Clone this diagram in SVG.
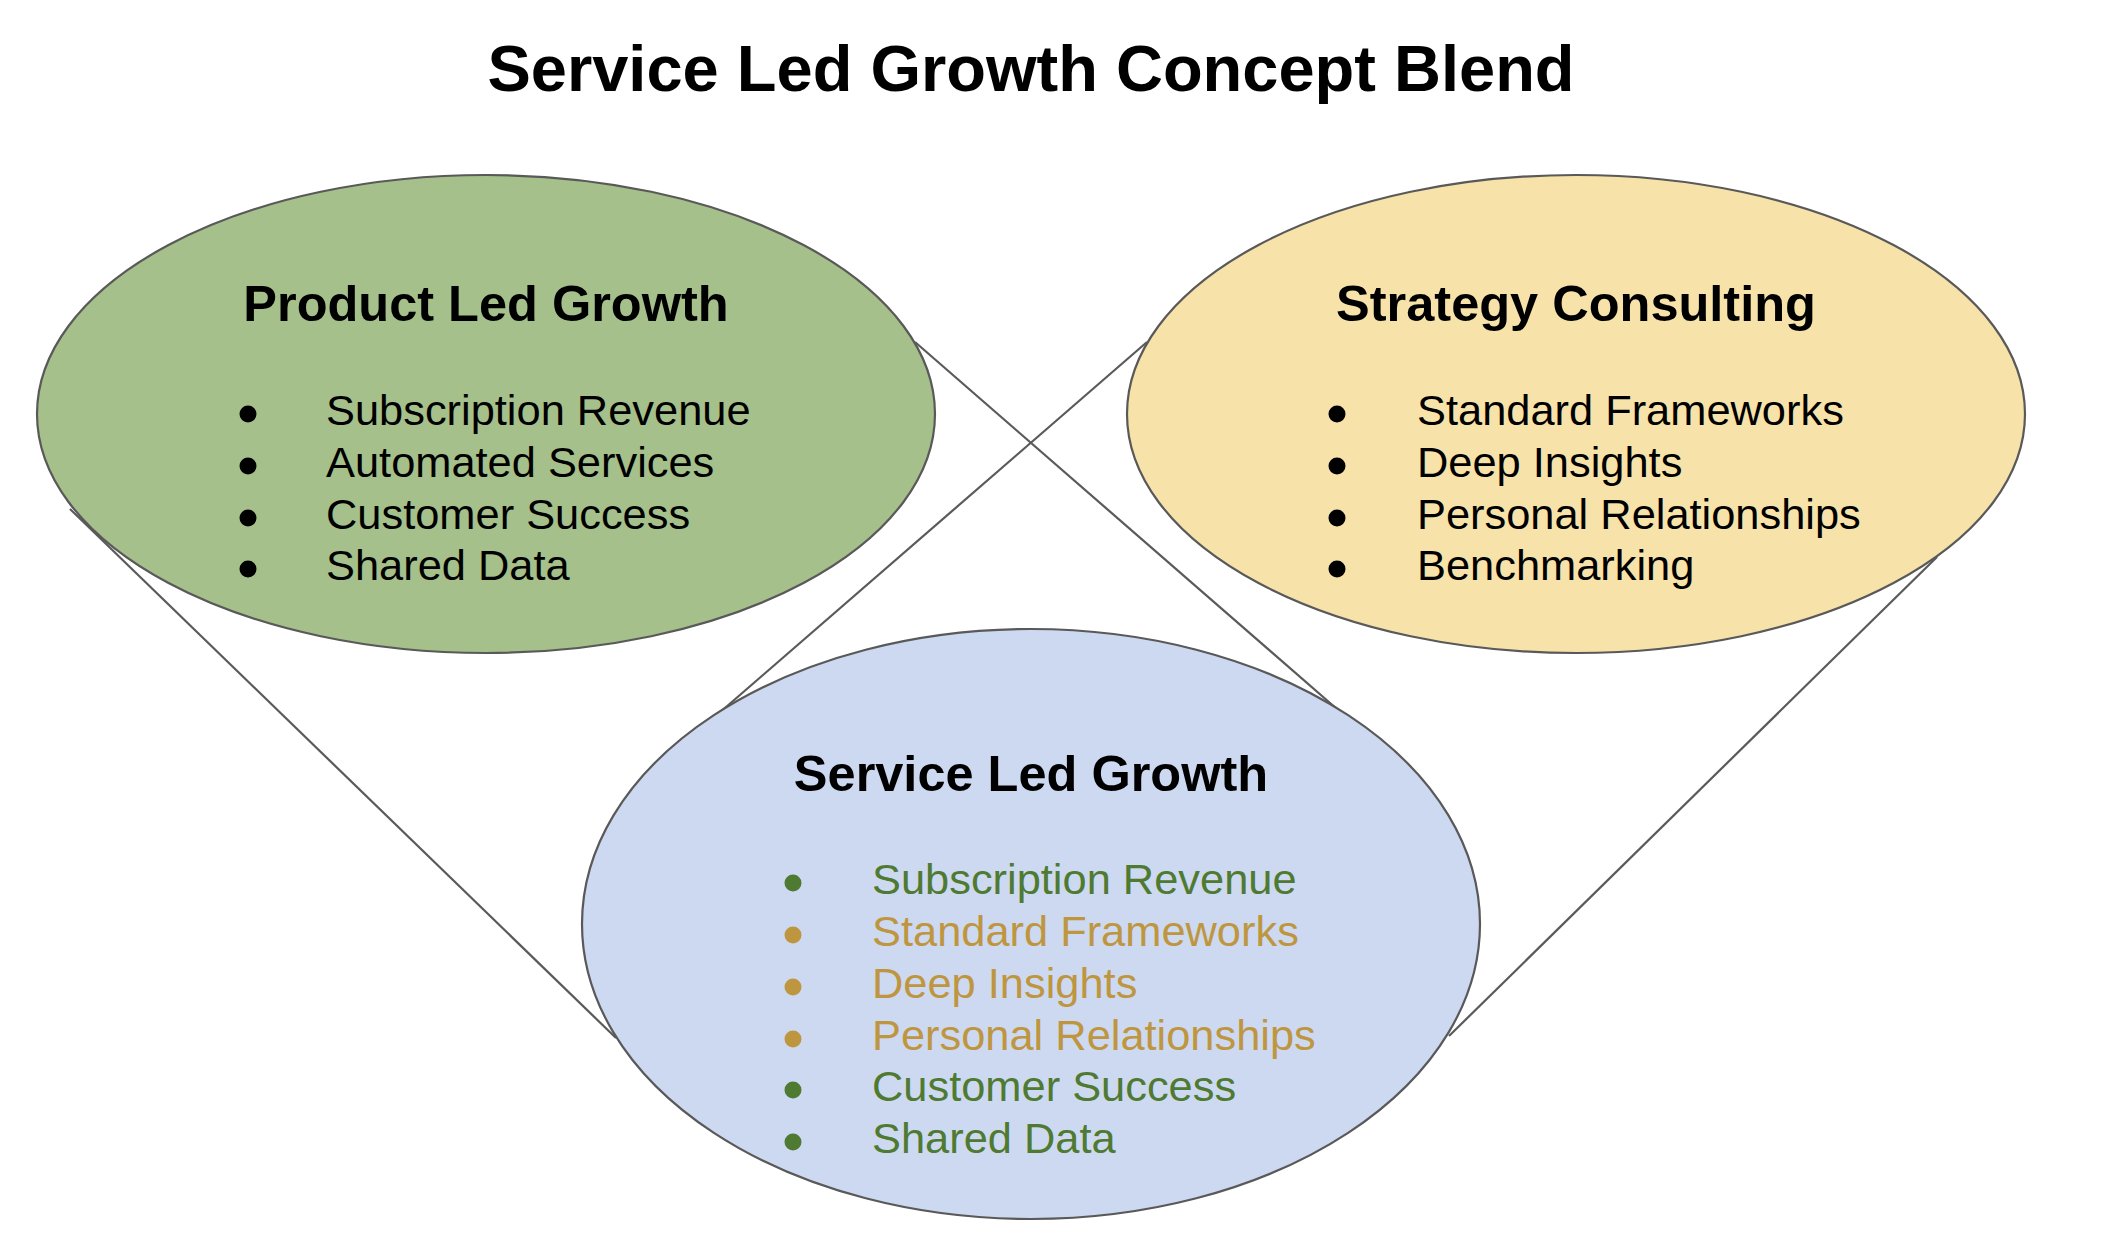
<svg xmlns="http://www.w3.org/2000/svg" width="2106" height="1260" viewBox="0 0 2106 1260">
<style>
.bg{fill:#ffffff}
.node{stroke:#595959;stroke-width:2.2}
.conn{stroke:#5a5a5a;stroke-width:2.2;fill:none}
.title{font-family:"Liberation Sans",Arial,sans-serif;font-weight:bold;font-size:65px;fill:#000}
.head{font-family:"Liberation Sans",Arial,sans-serif;font-weight:bold;font-size:50.5px;fill:#000;text-anchor:middle}
.item{font-family:"Liberation Sans",Arial,sans-serif;font-size:43.4px;fill:#000}
.g{fill:#4f7a31}
.y{fill:#bf9640}
</style>
<rect class="bg" x="0" y="0" width="2106" height="1260"/>
<text class="title" x="1031" y="91" text-anchor="middle">Service Led Growth Concept Blend</text>
<g id="connectors">
<line class="conn" x1="70" y1="509" x2="616" y2="1038"/>
<line class="conn" x1="915" y1="342" x2="1345" y2="716"/>
<line class="conn" x1="1147" y1="342" x2="718" y2="714"/>
<line class="conn" x1="1937" y1="557" x2="1449" y2="1036"/>
</g>
<g id="product-led-growth">
<ellipse class="node" cx="486" cy="414" rx="449" ry="239" fill="#a5c08a"/>
<text class="head" x="486" y="321">Product Led Growth</text>
<circle cx="248" cy="414" r="8.5"/>
<circle cx="248" cy="466" r="8.5"/>
<circle cx="248" cy="518" r="8.5"/>
<circle cx="248" cy="569" r="8.5"/>
<text class="item" x="326" y="425">Subscription Revenue</text>
<text class="item" x="326" y="477">Automated Services</text>
<text class="item" x="326" y="529">Customer Success</text>
<text class="item" x="326" y="580">Shared Data</text>
</g>
<g id="strategy-consulting">
<ellipse class="node" cx="1576" cy="414" rx="449" ry="239" fill="#f7e3a9"/>
<text class="head" x="1576" y="321">Strategy Consulting</text>
<circle cx="1337" cy="414" r="8.5"/>
<circle cx="1337" cy="466" r="8.5"/>
<circle cx="1337" cy="518" r="8.5"/>
<circle cx="1337" cy="569" r="8.5"/>
<text class="item" x="1417" y="425">Standard Frameworks</text>
<text class="item" x="1417" y="477">Deep Insights</text>
<text class="item" x="1417" y="529">Personal Relationships</text>
<text class="item" x="1417" y="580">Benchmarking</text>
</g>
<g id="service-led-growth">
<ellipse class="node" cx="1031" cy="924" rx="449" ry="295" fill="#cdd9f1"/>
<text class="head" x="1031" y="791">Service Led Growth</text>
<circle class="g" cx="793" cy="883" r="8.5"/>
<circle class="y" cx="793" cy="935" r="8.5"/>
<circle class="y" cx="793" cy="987" r="8.5"/>
<circle class="y" cx="793" cy="1039" r="8.5"/>
<circle class="g" cx="793" cy="1090" r="8.5"/>
<circle class="g" cx="793" cy="1142" r="8.5"/>
<text class="item g" x="872" y="894">Subscription Revenue</text>
<text class="item y" x="872" y="946">Standard Frameworks</text>
<text class="item y" x="872" y="998">Deep Insights</text>
<text class="item y" x="872" y="1050">Personal Relationships</text>
<text class="item g" x="872" y="1101">Customer Success</text>
<text class="item g" x="872" y="1153">Shared Data</text>
</g>
</svg>
